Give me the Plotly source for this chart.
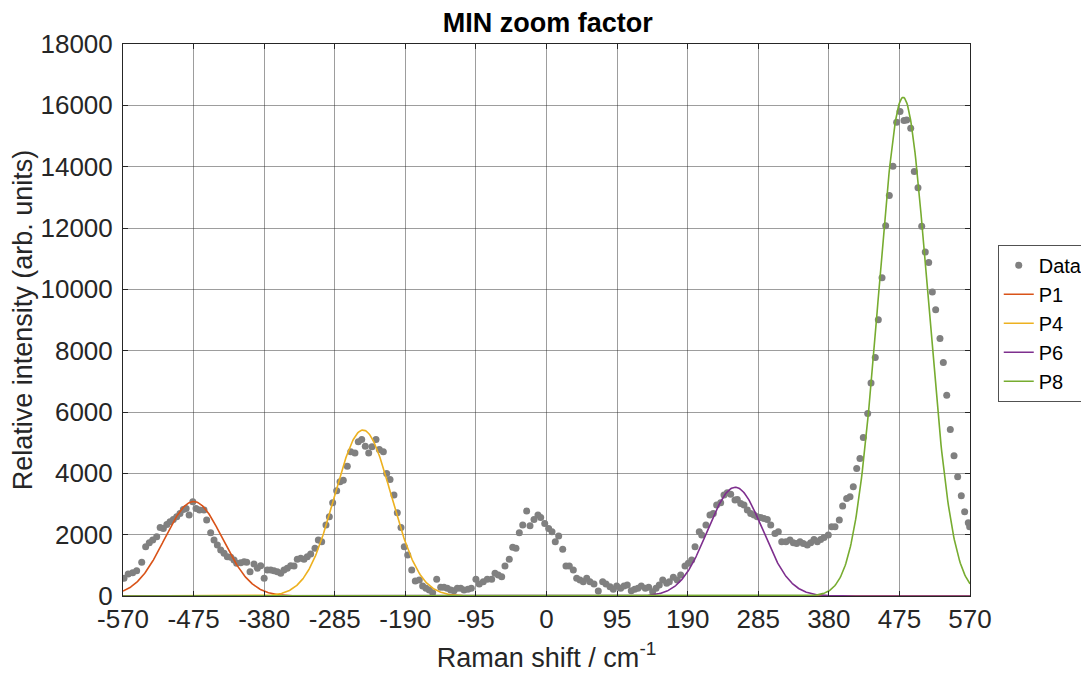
import numpy as np
import plotly.graph_objects as go

# Measured data (Raman shift in cm^-1, relative intensity)
data_x = [-568.7, -563, -557, -551.6, -544.8, -539.5, -534.6, -530, -524.6, -520, -515.7, -511, -506.7, -502.3,
          -497.7, -493.3, -488.8, -485, -481, -476, -471.7, -467, -461, -457.4, -452, -447.5, -443, -438.5,
          -434, -429.6, -425, -420.6, -417, -411.6, -407, -403.5, -399, -393.7, -389.2, -384.7, -380, -375.8,
          -371.2, -366.8, -362.3, -357.7, -353.3, -348.9, -344.3, -339.8, -335.4, -330.8, -326.4, -322,
          -317.4, -311.6, -307.1, -302.6, -296.8, -292.3, -287.8, -282.4, -277.9, -273.5, -268.1, -263.5,
          -257.8, -253.3, -248.7, -243.9, -239.3, -234.9, -229.5, -225, -219.6, -215.1, -210.6, -205.3,
          -200.8, -195.8, -191.4, -186.8, -181.4, -176.6, -171.2, -166.7, -162.2, -157.8, -153.2, -147.8,
          -142.4, -138, -133.5, -128.9, -124.5, -120, -115.5, -111, -105.7, -101.2, -95, -90.5, -85.1, -79.7,
          -73.8, -69.3, -64.9, -60.3, -55.9, -50.1, -45.5, -41.1, -36.6, -32, -26.7, -22.2, -16.8, -11.5,
          -7.8, -2.4, 2.9, 7.4, 11.8, 16.4, 21.8, 26.2, 30.7, 36.1, 40.6, 45.1, 49.5, 54.1, 58.5, 63.9, 69.7,
          75.6, 80.1, 85.5, 89.9, 94.5, 99.8, 104.3, 108.7, 114.1, 118.7, 123.1, 127.6, 133, 137.5, 142.9,
          147.4, 151.8, 156.4, 161.8, 165.3, 170.7, 176, 180.6, 186.4, 190.9, 195.4, 199.9, 205.6, 208.9,
          214.6, 220, 224.5, 229, 234.4, 238.9, 243.3, 247.9, 253.7, 256.8, 261.4, 265.8, 270.3, 274.8,
          279.3, 283.7, 288.3, 292.7, 297.2, 301.8, 307.5, 312, 316.6, 322.3, 327.7, 332.2, 336.7, 341.2,
          345.6, 351, 355.6, 360, 364.5, 369, 373.5, 379.3, 383.8, 388.3, 394.1, 398.6, 404, 408.5, 412.9,
          417.5, 421.9, 426.4, 432.3, 436.8, 442.5, 446.6, 451.6, 456.5, 461.4, 466.3, 471.3, 475.8, 481.2,
          484.8, 490.2, 495, 500, 505, 509.8, 514.4, 519.3, 523.8, 529.6, 534.1, 538.7, 543.5, 548.5, 553.4,
          558.3, 562.8, 567.7, 569.5]
data_y = [577, 716, 760, 825, 1097, 1606, 1737, 1824, 1932, 2237, 2204, 2335, 2420, 2498,
          2583, 2693, 2823, 2856, 2638, 3071, 2856, 2801, 2801, 2475, 2062, 1824, 1661, 1498,
          1390, 1281, 1260, 1172, 1064, 1085, 1117, 1097, 791, 1042, 902, 987, 577, 847,
          847, 825, 791, 739, 847, 902, 987, 977, 1195, 1228, 1195, 1281,
          1368, 1553, 1824, 1769, 2312, 2583, 3039, 3430, 3723, 3778, 4234, 4700,
          4667, 5026, 5104, 4886, 4667, 4863, 5104, 4778, 4700, 3996, 3801, 3290,
          2713, 2237, 1606, 1335, 847, 489, 521, 326, 250, 195, 108, 543,
          282, 282, 250, 195, 174, 250, 250, 195, 217, 250, 543, 391, 467, 543,
          543, 739, 684, 630, 977, 1195, 1586, 1553, 2062, 2312, 2768, 2290, 2498, 2638,
          2563, 2368, 2204, 2094, 1769, 1954, 1521, 977, 977, 847, 577, 521, 467, 577, 467, 391, 163,
          467, 391, 304, 217, 326, 250, 326, 358, 174, 217, 250, 326, 250, 282, 141,
          250, 358, 521, 413, 467, 608, 521, 684, 977, 1064, 1172, 1606, 2094, 1987,
          2312, 2638, 2693, 2964, 3039, 3290, 3364, 3322, 3127, 3149, 3019, 2964, 2801, 2693,
          2638, 2583, 2563, 2530, 2498, 2312, 2042, 2094, 1769, 1769, 1824, 1737, 1715, 1769,
          1715, 1661, 1737, 1846, 1769, 1846, 1911, 1987, 2257, 2257, 2475, 2931, 3182, 3234, 3560,
          4159, 4485, 5169, 5950, 6947, 7774, 9012, 10380, 12074, 13061, 14015, 15448, 15796, 15503,
          15525, 15253, 13842, 13311, 12061, 11214, 10878, 9911, 9338, 8393, 7611, 6547, 5429, 4570, 3886,
          3267, 2746, 2387, 2257]

# Fitted Gaussian peaks
peak_names = ["P1", "P4", "P6", "P8"]
peak_centers = [-475, -247, 254, 480]
peak_amps = [3080, 5410, 3545, 16260]
peak_sigmas = [39, 38, 37, 33]
peak_colors = ["#D95319", "#EDB120", "#7E2F8E", "#77AC30"]

x_ticks = [-570, -475, -380, -285, -190, -95, 0, 95, 190, 285, 380, 475, 570]
y_ticks = [0, 2000, 4000, 6000, 8000, 10000, 12000, 14000, 16000, 18000]

FONT = "Liberation Sans, Arial, Helvetica, sans-serif"

fig = go.Figure()
fig.add_trace(go.Scatter(x=data_x, y=data_y, mode="markers", name="Data",
                         marker=dict(color="#808080", size=7)))
xs = np.linspace(-570, 570, 1141)
for n, c, a, s, col in zip(peak_names, peak_centers, peak_amps, peak_sigmas, peak_colors):
    ys = a * np.exp(-((xs - c) ** 2) / (2 * s ** 2))
    fig.add_trace(go.Scatter(x=xs, y=ys, mode="lines", name=n,
                             line=dict(color=col, width=1.6)))

# page has an 8px body margin: figure is 1081x667 and offset by 8px
fig.update_layout(
    template="none",
    width=1081, height=667,
    paper_bgcolor="white", plot_bgcolor="white",
    margin=dict(l=115, r=119, t=36, b=79, autoexpand=False),
    font=dict(family=FONT, color="#262626", size=23),
    title=dict(text="<b>MIN zoom factor</b>", x=0.5015, xanchor="center",
               xref="paper", yref="container", y=0.9775, yanchor="middle",
               font=dict(family=FONT, size=27, color="black")),
    legend=dict(x=1.033, xanchor="left", y=0.636, yanchor="top",
                bordercolor="#262626", borderwidth=0.8, bgcolor="white",
                font=dict(family=FONT, size=20, color="black"),
                tracegroupgap=0, itemwidth=30),
    showlegend=True,
)
fig.update_xaxes(range=[-570, 570], tickvals=x_ticks, ticktext=[str(v) for v in x_ticks],
                 showgrid=True, gridcolor="rgba(38,38,38,0.45)", gridwidth=1, automargin=False,
                 showline=True, linecolor="#262626", linewidth=1, mirror="ticks",
                 ticks="inside", ticklen=5, tickcolor="#262626", zeroline=False,
                 tickfont=dict(size=26, family=FONT, color="#262626"),
                 title=dict(text="Raman shift / cm<sup>-1</sup>", standoff=14,
                            font=dict(size=27, family=FONT, color="#262626")))
fig.update_yaxes(range=[0, 18000], tickvals=y_ticks, ticktext=[str(v) for v in y_ticks],
                 showgrid=True, gridcolor="rgba(38,38,38,0.45)", gridwidth=1, automargin=False,
                 showline=True, linecolor="#262626", linewidth=1, mirror="ticks",
                 ticks="inside", ticklen=5, tickcolor="#262626", zeroline=False,
                 ticklabelstandoff=4,
                 tickfont=dict(size=26, family=FONT, color="#262626"),
                 title=dict(text="Relative intensity (arb. units)", standoff=0,
                            font=dict(size=27, family=FONT, color="#262626")))

fig.write_html("out.html")
